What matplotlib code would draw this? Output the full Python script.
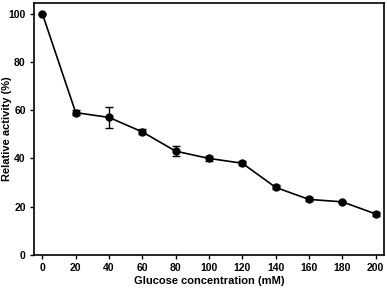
import matplotlib.pyplot as plt
from matplotlib import font_manager

glucose = [0, 20, 40, 60, 80, 100, 120, 140, 160, 180, 200]
activity = [100, 59, 57, 51, 43, 40, 38, 28, 23, 22, 17]
errors = [0, 1, 4.3, 1, 2, 1, 0.8, 0.8, 0.8, 0.5, 0.8]

# Arial-like bold font, taken straight from its file
bold_file = None
for f in font_manager.findSystemFonts():
    if f.split('/')[-1] == 'LiberationSans-Bold.ttf':
        bold_file = f
if bold_file:
    tick_font = font_manager.FontProperties(fname=bold_file, size=7.5)
    label_font = font_manager.FontProperties(fname=bold_file, size=8)
else:
    tick_font = font_manager.FontProperties(family='DejaVu Sans', weight='bold', size=7)
    label_font = tick_font

fig = plt.figure(figsize=(3.87, 2.88), dpi=100)
ax = fig.add_axes([0.088, 0.115, 0.904, 0.875])

ax.errorbar(glucose, activity, yerr=errors, color='black', marker='o',
            markersize=5, linewidth=1.2, capsize=3, elinewidth=1, capthick=1)

ax.set_xlim(-5, 205)
ax.set_ylim(0, 104.5)
ax.set_xticks(range(0, 201, 20))
ax.set_yticks(range(0, 101, 20))
ax.tick_params(direction='out', length=3, width=1, pad=3, top=False, right=False)
for lab in ax.get_xticklabels() + ax.get_yticklabels():
    lab.set_fontproperties(tick_font)
for s in ax.spines.values():
    s.set_linewidth(1.2)

ax.set_xlabel('Glucose concentration (mM)', fontproperties=label_font)
ax.xaxis.set_label_coords(0.5, -0.085)
ax.set_ylabel('Relative activity (%)', fontproperties=label_font)
ax.yaxis.set_label_coords(-0.064, 0.5)

fig.savefig('out.png', dpi=100)
